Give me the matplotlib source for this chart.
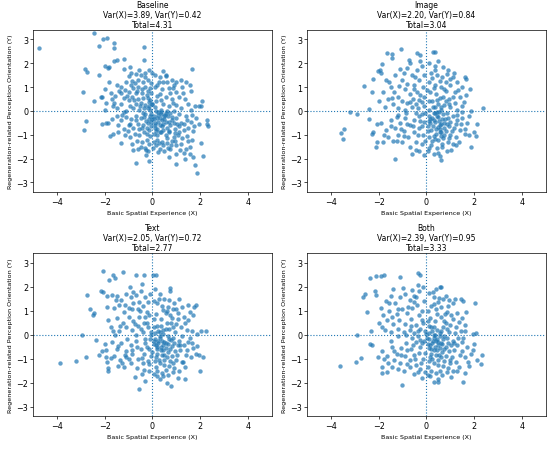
import matplotlib
matplotlib.use("Agg")
import matplotlib.pyplot as plt
import numpy as np

# point estimates, (x, y) pairs per condition
baseline_pts = np.array([
    (-4.74, 2.62), (-2.46, 3.25), (-2.06, 3.0), (-1.89, 3.04), (-2.25, 2.72), (-1.62, 2.85),
    (-1.62, 2.64), (-0.35, 2.68), (-0.34, 2.15), (-1.19, 2.19), (-1.62, 2.08), (-1.47, 2.12),
    (-2.84, 1.74), (-2.73, 1.63), (-2.9, 0.77), (-2.25, 1.5), (-2.0, 1.88), (-1.85, 1.78),
    (-1.82, 1.84), (-2.45, 0.42), (-2.87, -0.8), (-2.8, -0.43), (-2.1, -0.56), (-1.95, -0.52),
    (-1.88, -0.5), (-2.15, 0.57), (-1.97, 0.93), (-1.66, 0.21), (-1.78, -1.05), (-1.64, -0.96),
    (-1.3, -1.33), (-0.69, -2.19), (-0.13, -2.09), (-0.28, -1.84), (-0.29, -1.63), (0.97, -2.22),
    (1.37, -2.02), (1.76, -2.26), (1.86, -2.6), (1.68, -1.95), (2.13, -1.9), (2.03, -1.33),
    (2.28, -0.39), (2.34, -0.64), (2.27, -0.53), (2.07, 0.4), (2.01, 0.21), (1.94, 0.2),
    (1.79, 0.19), (1.64, 1.76), (0.46, 1.69), (0.57, 1.47),
    (-0.95, 1.85), (-0.9, 1.6), (-0.7, 1.55), (-0.5, 1.5), (-0.3, 1.4), (-0.15, 1.7), (0.0, 1.6),
    (-1.2, 1.75), (-1.0, 1.45), (-0.6, 1.3), (-0.4, 1.2), (-0.2, 1.3),
    (-1.8, 1.2), (-1.5, 1.1), (-1.3, 1.0), (-1.1, 1.2), (-0.9, 1.1), (-0.8, 0.95), (-0.6, 1.0),
    (-0.45, 0.9), (-0.3, 1.0), (-0.2, 0.85), (-0.1, 0.95), (-1.4, 0.85), (-1.0, 0.8), (-0.7, 0.75),
    (-2.1, 0.6), (-1.7, 0.5), (-1.6, 0.35), (-1.2, 0.55), (-1.0, 0.45), (-0.85, 0.6), (-0.6, 0.5),
    (-0.4, 0.55), (-0.25, 0.65), (-0.1, 0.45), (-0.7, 0.3), (-0.5, 0.35), (-0.3, 0.25), (-1.3, 0.3),
    (-0.95, 0.2), (-0.15, 0.2), (-2.0, 0.05), (-1.5, 0.1), (-1.1, 0.0), (-0.8, 0.1), (-0.55, 0.05),
    (-0.35, 0.1), (-0.1, 0.05), (-1.2, -0.05),
    (0.1, 1.5), (0.3, 1.4), (0.45, 1.2), (0.55, 1.5), (0.6, 1.2), (0.8, 1.3), (0.9, 1.1), (1.0, 1.2),
    (1.2, 1.3), (1.25, 1.0), (1.4, 1.2), (1.55, 1.1), (1.6, 0.85), (0.2, 1.1), (0.4, 0.9), (0.7, 0.95),
    (1.0, 0.8), (1.1, 0.6), (0.3, 0.7), (0.55, 0.6), (0.8, 0.5), (1.35, 0.5), (1.5, 0.3), (0.15, 0.4),
    (0.45, 0.3), (0.7, 0.2), (1.0, 0.25), (1.2, 0.1), (1.6, 0.05), (0.1, 0.15), (0.35, 0.05), (0.9, 0.0),
    (0.05, -0.2), (0.2, -0.3), (0.35, -0.15), (0.5, -0.35), (0.65, -0.2), (0.8, -0.4), (1.0, -0.3),
    (1.2, -0.5), (1.4, -0.2), (1.6, -0.45), (1.8, -0.3), (0.1, -0.5), (0.3, -0.6), (0.45, -0.55),
    (0.6, -0.7), (0.75, -0.6), (0.95, -0.75), (1.1, -0.65), (1.3, -0.8), (1.5, -0.7), (1.7, -0.85),
    (0.15, -0.85), (0.35, -0.9), (0.55, -1.0), (0.7, -0.9), (0.9, -1.1), (1.05, -1.0), (1.25, -1.15),
    (1.45, -1.05), (1.65, -1.2), (0.2, -1.2), (0.4, -1.3), (0.6, -1.35), (0.8, -1.25), (1.0, -1.45),
    (1.2, -1.4), (1.4, -1.6), (1.55, -1.5), (0.3, -1.6), (0.5, -1.7), (0.75, -1.6), (1.0, -1.8),
    (1.3, -1.75), (1.55, -1.8), (0.7, -1.95), (0.15, -1.45), (0.9, -0.5), (0.25, -0.05), (0.55, -0.1),
    (1.1, -0.15), (0.4, -0.4), (0.7, -0.45),
    (-0.1, -0.2), (-0.3, -0.15), (-0.5, -0.3), (-0.7, -0.2), (-0.9, -0.35), (-1.1, -0.25), (-1.3, -0.4),
    (-1.5, -0.2), (-1.7, -0.35), (-0.2, -0.5), (-0.4, -0.6), (-0.6, -0.55), (-0.8, -0.7), (-1.0, -0.6),
    (-1.2, -0.75), (-1.45, -0.6), (-0.15, -0.8), (-0.35, -0.9), (-0.55, -1.0), (-0.75, -0.95),
    (-0.95, -1.1), (-1.15, -1.0), (-0.25, -1.2), (-0.45, -1.3), (-0.65, -1.25), (-0.85, -1.4),
    (-0.3, -1.55), (-0.6, -1.6), (-0.1, -1.05), (-0.05, -0.65), (-0.2, -1.7),
    (0.0, -0.35), (0.1, -0.7), (-0.05, -0.45), (0.2, -0.75), (0.25, -0.45), (-0.15, -0.35),
    (0.05, -0.95), (0.3, -0.3), (0.45, -0.8), (-0.25, -0.7), (0.15, 0.0), (-0.2, 0.1), (0.0, 0.3),
    (-0.05, 0.75), (0.1, 1.0), (0.05, -1.3), (-0.4, -0.1), (0.6, 0.0),
    (-0.13, 0.37), (0.23, -0.17), (0.41, -0.62), (0.07, -0.33), (-0.27, -0.43), (0.57, -0.48),
    (0.33, -0.87), (0.12, -0.58), (-0.08, -0.12), (0.47, -0.23), (0.68, -0.83), (0.83, -0.27),
    (0.18, -1.03), (-0.37, -0.27), (0.62, -1.13), (1.13, -0.87), (0.93, -1.27), (-0.53, 0.22),
    (-0.77, 0.47), (-0.43, 0.73), (-0.17, 0.53), (-0.63, 0.83), (-0.87, 1.27), (-1.07, 0.63),
    (-0.33, 1.57), (-0.57, 1.73), (0.27, 1.23), (0.73, 0.73), (0.37, 0.47), (0.87, 0.33),
    (1.27, 0.73), (1.43, -0.37), (1.33, -0.57), (0.77, -1.43), (1.17, -1.63), (0.43, -1.43),
    (-0.43, -0.73), (-0.67, -0.37), (-0.93, -0.53), (-1.27, -0.17), (-1.57, 0.63), (-1.33, 0.73),
    (-0.23, -0.97), (0.27, -1.33), (0.53, -0.17), (1.03, -0.57), (1.73, -0.63), (-0.07, 1.17),
    (0.17, 0.63), (-0.47, -1.53), (-1.03, -0.83), (0.03, -1.57), (0.63, -1.57), (0.93, -0.93),
    (-0.73, 1.17), (-1.13, 0.87), (-1.73, 0.73), (-0.03, 0.27), (0.37, -0.03), (0.73, -0.07),
    (-0.57, -0.77), (-0.13, -1.37), (0.23, -1.73), (1.47, -1.27), (1.93, -0.53), (-0.83, -1.63),
    (0.87, 0.97), (-1.43, -0.87), (-1.93, 0.33), (1.67, -0.17),
])

image_pts = np.array([
    (-3.57, -0.93), (-3.5, -1.19), (-3.45, -0.74), (-3.21, -0.04), (-2.9, -0.15), (-2.62, 1.05),
    (-2.41, 0.07), (-2.29, 0.77), (-2.23, 1.35), (-2.39, -0.35), (-2.26, -0.96), (-2.22, -0.9),
    (-2.06, -1.32), (-2.09, -1.53), (-1.83, -1.29), (-1.31, -2.0), (-1.66, 2.44), (-1.43, 2.4),
    (-1.42, 2.2), (-1.07, 2.58), (-0.72, 2.13), (-0.38, 2.44), (-0.28, 2.36), (0.28, 2.48),
    (0.35, 2.45), (-2.01, 1.67), (-1.93, 1.71), (1.85, -1.53), (0.63, -2.05), (2.36, 0.14),
    (1.87, 0.01), (2.09, -1.05), (2.1, -0.56), (1.99, -0.88), (1.81, 0.93), (1.62, 1.42),
    (1.66, 1.33), (1.58, 0.38),
    (-1.9, 1.6), (-1.7, 1.3), (-1.5, 1.0), (-1.8, 0.8), (-1.3, 1.5), (-1.1, 1.75), (-1.0, 1.3),
    (-0.8, 1.8), (-0.6, 1.5), (-0.4, 1.7), (-0.2, 1.9), (-0.5, 1.1), (-0.3, 1.3), (-0.1, 1.5),
    (-1.2, 0.6), (-0.9, 0.9), (-0.7, 0.7), (-0.4, 0.8), (-0.15, 1.0), (-1.6, 0.5), (-1.4, 0.3),
    (-1.0, 0.4), (-0.8, 0.35), (-0.55, 0.5), (-0.3, 0.45), (-0.1, 0.6), (-2.0, 0.4), (-1.2, 0.1),
    (-0.9, 0.05), (-0.6, 0.15), (-0.35, 0.1), (-0.1, 0.2), (-1.85, 1.95), (-0.7, 2.0), (-1.35, 0.8),
    (-0.25, 2.1),
    (0.1, 2.0), (0.35, 1.9), (0.5, 2.1), (0.7, 1.85), (0.9, 1.7), (0.2, 1.6), (0.45, 1.5), (0.65, 1.4),
    (0.85, 1.55), (1.1, 1.4), (1.3, 1.2), (1.5, 1.0), (0.1, 1.2), (0.35, 1.1), (0.6, 1.0), (0.8, 0.85),
    (1.0, 1.1), (1.2, 0.8), (1.4, 0.6), (0.15, 0.8), (0.4, 0.7), (0.7, 0.6), (0.95, 0.5), (1.2, 0.35),
    (1.5, 0.2), (0.25, 0.4), (0.5, 0.3), (0.75, 0.25), (1.0, 0.15), (0.1, 0.05), (0.35, 0.15),
    (0.6, 0.05), (1.3, 0.05), (0.55, 0.55), (0.3, 0.95), (0.8, 1.2), (1.15, 1.6),
    (-1.9, -0.5), (-1.7, -0.8), (-1.5, -0.4), (-1.3, -0.7), (-1.1, -0.5), (-0.9, -0.3), (-0.7, -0.6),
    (-0.5, -0.4), (-0.3, -0.2), (-0.1, -0.45), (-1.6, -1.1), (-1.2, -1.0), (-0.95, -0.85),
    (-0.75, -1.1), (-0.5, -0.9), (-0.3, -0.7), (-0.15, -1.0), (-1.0, -1.3), (-0.7, -1.5),
    (-0.45, -1.3), (-0.2, -1.4), (-0.6, -1.8), (-0.3, -1.7), (-0.1, -1.85), (-1.4, -1.25),
    (-0.85, -0.1), (-0.45, -0.1), (-1.25, -0.25), (-0.2, -0.15),
    (0.1, -0.2), (0.3, -0.1), (0.5, -0.25), (0.7, -0.15), (0.9, -0.3), (1.1, -0.2), (1.3, -0.4),
    (1.5, -0.3), (1.7, -0.5), (0.15, -0.5), (0.35, -0.45), (0.55, -0.6), (0.75, -0.5), (0.95, -0.65),
    (1.15, -0.7), (1.4, -0.8), (1.6, -0.95), (1.8, -1.0), (0.2, -0.8), (0.4, -0.75), (0.6, -0.9),
    (0.8, -0.85), (1.0, -1.0), (1.25, -1.1), (0.1, -1.1), (0.3, -1.05), (0.5, -1.2), (0.7, -1.15),
    (0.9, -1.3), (1.1, -1.4), (1.35, -1.3), (0.2, -1.45), (0.45, -1.55), (0.65, -1.5), (0.85, -1.7),
    (1.05, -1.65), (0.3, -1.8), (0.55, -1.9), (0.05, -1.7), (0.65, -0.35), (0.45, -0.05),
    (0.25, -0.3), (0.85, -0.1), (0.4, -0.95), (0.6, -1.05), (0.75, -1.0), (0.55, -0.75),
    (0.05, -0.65), (1.5, -0.05), (1.0, -0.45),
    (0.33, -0.37), (0.53, -0.43), (0.47, -0.67), (0.63, -0.57), (0.27, -0.63), (0.73, -0.73),
    (0.43, -0.23), (0.17, -0.33), (0.87, -0.53), (0.57, -0.87), (0.37, -1.17), (0.77, -0.33),
    (0.07, -0.83), (-0.17, -0.63), (0.93, -1.13), (1.07, -0.83), (1.23, -0.57), (0.67, -1.37),
    (0.23, -1.27), (-0.07, -1.27), (-0.37, -1.03), (-0.57, -0.63), (-0.83, -0.57), (-1.07, -0.77),
    (-1.47, -0.63), (-1.77, -1.03), (-2.07, -0.57), (-0.43, 0.27), (-0.67, 0.37), (-0.17, 0.37),
    (0.13, 0.43), (0.43, 0.47), (0.83, 0.43), (1.13, 0.57), (1.27, -0.17), (0.27, 0.17),
    (0.63, 0.17), (0.93, 0.27), (-0.27, 0.67), (-0.53, 0.93), (-0.83, 1.13), (-1.13, 1.03),
    (-1.57, 1.23), (-1.73, 0.17), (-1.17, -0.17), (0.23, 1.37), (0.57, 1.27), (0.97, 1.33),
    (1.33, 0.87), (1.67, 0.67), (1.43, -0.57), (1.63, -0.77), (1.23, -1.43), (0.47, -1.77),
    (-0.43, -1.63), (-0.93, -1.07), (-1.23, -1.27), (0.13, -1.57), (0.37, -0.07), (0.53, -0.03),
    (-0.07, -0.07), (-0.27, -0.43), (0.03, 0.87), (0.73, 0.93), (0.37, 1.73), (-0.47, 1.43),
    (-0.93, 1.57), (-1.43, 0.53), (1.77, -0.23), (0.13, -0.43),
])

text_pts = np.array([
    (-3.87, -1.17), (-3.2, -1.11), (-2.95, 0.0), (-2.78, -0.93), (-2.76, 1.66), (-2.6, 1.07),
    (-2.43, 0.89), (-2.47, 0.82), (-2.38, -0.21), (-2.25, -0.83), (-2.06, 2.65), (-2.15, 1.8),
    (-2.05, 1.78), (-1.66, 2.5), (-1.57, 2.37), (-1.24, 2.62), (-1.82, 2.27), (-1.89, 1.59),
    (-1.92, 1.17), (-1.95, -0.66), (-1.93, -0.94), (-1.9, -1.15), (-1.85, -1.5), (-1.88, -1.4),
    (-0.7, 2.48), (-0.35, 2.48), (0.03, 2.48), (0.13, 2.47), (-0.55, -2.25), (0.77, -2.14),
    (0.6, -2.0), (1.34, -1.83), (2.0, -1.5), (1.96, -0.84), (2.11, -0.94), (2.22, 0.14),
    (2.03, 0.17), (1.86, 0.04), (1.75, 1.17), (1.8, 1.22), (1.68, 0.8), (1.48, 1.25),
    (0.75, 1.93), (0.72, 1.8),
    (-1.7, 1.65), (-1.5, 1.6), (-1.3, 1.45), (-1.1, 1.7), (-0.9, 1.55), (-0.7, 1.65), (-0.5, 1.8),
    (-0.3, 1.55), (-0.1, 1.7), (-1.6, 1.1), (-1.4, 1.25), (-1.2, 0.95), (-1.0, 1.1), (-0.8, 1.3),
    (-0.6, 1.05), (-0.4, 1.2), (-0.2, 1.35), (-1.5, 0.7), (-1.25, 0.5), (-1.0, 0.75), (-0.8, 0.55),
    (-0.55, 0.75), (-0.35, 0.5), (-0.15, 0.8), (-1.75, 0.3), (-1.4, 0.15), (-1.1, 0.3), (-0.85, 0.2),
    (-0.6, 0.35), (-0.4, 0.1), (-0.2, 0.3), (-0.05, 0.1), (-0.95, 2.0), (-0.45, 2.1), (-1.85, 0.6),
    (-1.55, 0.0), (-0.7, 0.0), (-0.25, 0.95),
    (0.1, 1.9), (0.3, 1.7), (0.5, 1.5), (0.7, 1.45), (0.9, 1.3), (1.1, 1.5), (0.2, 1.3), (0.4, 1.2),
    (0.6, 1.0), (0.85, 1.05), (1.05, 0.9), (1.3, 0.75), (1.5, 0.6), (0.15, 0.85), (0.35, 0.65),
    (0.6, 0.5), (0.8, 0.7), (1.0, 0.45), (1.2, 0.3), (1.45, 0.2), (0.2, 0.35), (0.45, 0.2),
    (0.7, 0.25), (0.95, 0.1), (1.65, 0.15), (0.1, 0.05), (0.3, 0.1), (1.25, 1.15), (0.55, 0.9),
    (0.05, 1.4),
    (-2.0, -0.4), (-1.7, -0.3), (-1.5, -0.6), (-1.3, -0.35), (-1.1, -0.7), (-0.9, -0.45),
    (-0.7, -0.25), (-0.5, -0.6), (-0.3, -0.35), (-0.1, -0.2), (-1.6, -0.9), (-1.35, -1.05),
    (-1.1, -0.95), (-0.85, -0.8), (-0.6, -1.0), (-0.35, -0.8), (-0.15, -0.6), (-1.2, -1.35),
    (-0.9, -1.2), (-0.65, -1.4), (-0.4, -1.2), (-0.2, -1.1), (-0.75, -1.75), (-0.45, -1.65),
    (-0.15, -1.5), (-0.3, -1.95), (-1.45, -1.3), (-0.05, -0.9),
    (0.1, -0.2), (0.3, -0.15), (0.5, -0.3), (0.7, -0.2), (0.9, -0.35), (1.1, -0.25), (1.3, -0.45),
    (1.5, -0.3), (1.7, -0.55), (0.15, -0.45), (0.35, -0.5), (0.55, -0.55), (0.75, -0.6), (0.95, -0.7),
    (1.15, -0.65), (1.4, -0.85), (1.6, -0.95), (1.8, -0.8), (0.2, -0.8), (0.4, -0.85), (0.6, -0.95),
    (0.8, -0.9), (1.0, -1.05), (1.25, -1.15), (0.1, -1.1), (0.3, -1.2), (0.5, -1.25), (0.7, -1.3),
    (0.9, -1.4), (1.1, -1.5), (1.35, -1.35), (0.2, -1.5), (0.4, -1.6), (0.65, -1.7), (0.85, -1.55),
    (1.05, -1.8), (0.3, -1.85), (0.05, -1.65), (0.25, -0.35), (0.45, -0.65), (0.65, -0.4),
    (0.85, -0.15), (0.2, -0.6), (0.5, -1.05), (0.75, -1.1), (0.4, -0.25), (0.05, -0.4),
    (1.55, -0.15), (1.05, -0.45),
    (0.23, -0.27), (0.43, -0.43), (0.37, -0.63), (0.57, -0.37), (0.17, -0.53), (0.63, -0.73),
    (0.33, -0.07), (0.07, -0.27), (0.83, -0.47), (0.47, -0.87), (0.27, -1.07), (0.77, -0.23),
    (-0.03, -0.73), (-0.23, -0.53), (0.87, -1.17), (1.03, -0.83), (1.17, -0.43), (0.57, -1.47),
    (0.13, -1.33), (-0.13, -1.23), (-0.43, -0.97), (-0.63, -0.53), (-0.87, -0.63), (-1.17, -0.83),
    (-1.43, -0.47), (-1.73, -0.97), (-2.13, -0.67), (-0.47, 0.23), (-0.73, 0.43), (-0.23, 0.47),
    (0.07, 0.33), (0.37, 0.37), (0.77, 0.47), (1.07, 0.63), (1.23, -0.07), (0.23, 0.13),
    (0.57, 0.23), (0.87, 0.33), (-0.33, 0.73), (-0.53, 0.97), (-0.87, 1.07), (-1.13, 1.23),
    (-1.53, 1.43), (-1.67, 0.13), (-1.07, -0.17), (0.27, 1.47), (0.63, 1.17), (0.97, 1.07),
    (1.37, 0.47), (1.57, 0.93), (1.43, -0.63), (1.67, -0.33), (1.27, -1.13), (0.43, -1.73),
    (-0.37, -1.47), (-0.97, -1.03), (-1.27, -1.17), (0.17, -1.73), (0.43, 0.03), (0.63, -0.07),
    (-0.07, -0.03), (-0.33, -0.17), (0.07, 0.63), (0.73, 0.83), (0.43, 1.03), (-0.57, 1.37),
    (-0.83, 1.77), (-1.37, 0.37), (1.87, -0.47), (0.13, -0.93),
])

both_pts = np.array([
    (-3.63, -1.32), (-2.96, -1.13), (-2.92, 0.0), (-2.75, -0.99), (-2.65, 1.58), (-2.55, 1.69),
    (-2.47, 0.93), (-2.3, 0.14), (-2.38, -0.38), (-2.27, -0.45), (-2.37, 2.37), (-2.09, 2.44),
    (-1.88, 2.44), (-1.79, 2.5), (-1.09, 2.4), (-2.13, 1.83), (-2.12, 1.66), (-1.02, -2.11),
    (-1.86, -1.58), (-1.86, -1.37), (-0.35, 2.55), (-0.28, 2.5), (2.02, 1.3), (2.0, -0.38),
    (2.08, 0.05), (1.97, 0.03), (2.33, -0.85), (2.3, -1.22), (2.12, -1.06), (1.53, -1.97),
    (0.3, -1.97), (0.49, -1.97), (0.56, 1.99), (0.63, 1.99), (0.8, 1.6), (0.42, 1.9),
    (-0.35, 2.08), (1.2, 1.5), (1.45, 1.48), (1.52, 1.41), (1.66, 0.95), (1.6, 0.4),
    (-1.9, 1.1), (-1.7, 1.4), (-1.5, 1.6), (-1.3, 1.3), (-1.1, 1.55), (-0.9, 1.7), (-0.7, 1.45),
    (-0.5, 1.6), (-0.3, 1.8), (-0.1, 1.4), (-1.8, 0.8), (-1.55, 1.0), (-1.25, 0.85), (-1.0, 1.05),
    (-0.8, 0.9), (-0.6, 1.1), (-0.4, 1.25), (-0.2, 1.0), (-2.0, 0.5), (-1.65, 0.6), (-1.4, 0.45),
    (-1.15, 0.6), (-0.9, 0.45), (-0.65, 0.65), (-0.45, 0.4), (-0.2, 0.6), (-1.75, 0.2), (-1.5, 0.1),
    (-1.2, 0.25), (-0.95, 0.1), (-0.7, 0.2), (-0.5, 0.05), (-0.25, 0.25), (-0.05, 0.15),
    (-0.6, 1.85), (-1.4, 1.9), (-0.15, 2.0), (-0.85, 0.0),
    (0.1, 1.75), (0.3, 1.55), (0.5, 1.35), (0.7, 1.5), (0.9, 1.2), (1.1, 1.3), (0.2, 1.2), (0.4, 1.05),
    (0.6, 1.15), (0.85, 0.95), (1.05, 0.8), (1.3, 0.9), (1.5, 0.7), (0.15, 0.7), (0.35, 0.55),
    (0.6, 0.75), (0.8, 0.5), (1.0, 0.4), (1.25, 0.3), (1.45, 0.15), (0.2, 0.3), (0.45, 0.2),
    (0.7, 0.3), (0.95, 0.1), (1.2, 0.05), (0.1, 0.05), (0.3, 0.0), (0.55, 0.05), (0.05, 1.0),
    (0.45, 0.85),
    (-1.85, -0.7), (-1.65, -0.9), (-1.45, -0.5), (-1.25, -0.8), (-1.05, -0.55), (-0.85, -0.35),
    (-0.65, -0.6), (-0.45, -0.3), (-0.25, -0.5), (-0.1, -0.25), (-1.6, -1.2), (-1.35, -1.05),
    (-1.1, -1.2), (-0.9, -0.9), (-0.7, -1.05), (-0.5, -0.85), (-0.3, -0.75), (-0.15, -1.0),
    (-1.2, -1.45), (-0.95, -1.5), (-0.7, -1.35), (-0.45, -1.25), (-0.25, -1.45), (-0.5, -1.65),
    (-0.2, -1.8), (-0.05, -1.55), (-1.65, -1.55), (-0.6, -0.15), (-1.5, -0.25), (-0.35, -0.05),
    (0.1, -0.2), (0.3, -0.15), (0.5, -0.3), (0.7, -0.2), (0.9, -0.35), (1.1, -0.25), (1.3, -0.45),
    (1.5, -0.3), (1.7, -0.5), (0.15, -0.45), (0.35, -0.5), (0.55, -0.55), (0.75, -0.6), (0.95, -0.7),
    (1.15, -0.65), (1.4, -0.85), (1.6, -0.95), (1.85, -0.8), (0.2, -0.8), (0.4, -0.85), (0.6, -0.95),
    (0.8, -0.9), (1.0, -1.05), (1.25, -1.15), (0.1, -1.1), (0.3, -1.2), (0.5, -1.25), (0.7, -1.3),
    (0.9, -1.4), (1.1, -1.5), (1.35, -1.35), (0.2, -1.5), (0.4, -1.6), (0.65, -1.7), (0.85, -1.55),
    (1.05, -1.75), (1.6, -1.6), (0.05, -1.7), (0.25, -0.35), (0.45, -0.65), (0.65, -0.4),
    (0.85, -0.15), (0.2, -0.6), (0.5, -1.05), (0.75, -1.1), (0.4, -0.25), (0.05, -0.4),
    (1.55, -0.15), (1.05, -0.45), (1.8, -1.3),
    (0.27, -0.27), (0.47, -0.43), (0.33, -0.63), (0.63, -0.37), (0.13, -0.57), (0.67, -0.73),
    (0.37, -0.03), (0.03, -0.13), (0.83, -0.53), (0.53, -0.83), (0.23, -1.03), (0.73, -0.07),
    (-0.07, -0.77), (-0.17, -0.33), (0.97, -1.17), (1.07, -0.93), (1.17, -0.37), (0.57, -1.53),
    (0.07, -1.33), (-0.23, -1.17), (-0.47, -1.03), (-0.57, -0.43), (-0.83, -0.63), (-1.07, -0.87),
    (-1.37, -0.67), (-1.77, -1.03), (-2.03, -0.93), (-0.37, 0.17), (-0.63, 0.37), (-0.13, 0.47),
    (0.13, 0.37), (0.33, 0.33), (0.73, 0.57), (1.13, 0.63), (1.33, -0.13), (0.23, 0.13),
    (0.63, 0.13), (0.87, 0.23), (-0.33, 0.83), (-0.53, 1.37), (-0.77, 1.17), (-1.17, 1.07),
    (-1.57, 1.33), (-1.87, 0.33), (-1.17, -0.07), (0.27, 1.77), (0.53, 1.53), (0.93, 1.43),
    (1.37, 0.53), (1.63, 0.17), (1.47, -0.67), (1.73, -1.13), (1.27, -1.53), (0.47, -1.83),
    (-0.37, -1.57), (-0.83, -1.23), (-1.43, -1.33), (0.17, -1.73), (0.43, -0.17), (0.57, -0.07),
    (-0.03, 0.03), (-0.27, -0.23), (0.07, 0.57), (0.77, 0.87), (0.33, 1.27), (-0.43, 1.57),
    (-0.97, 1.93), (-1.43, 0.73), (1.93, -0.63), (0.17, -0.93),
])

titles = ["Baseline", "Image", "Text", "Both"]
var_x = [3.89, 2.20, 2.05, 2.39]
var_y = [0.42, 0.84, 0.72, 0.95]
totals = [4.31, 3.04, 2.77, 3.33]
point_sets = [baseline_pts, image_pts, text_pts, both_pts]

blue = "#1f77b4"
fig = plt.figure(figsize=(5.5, 4.52), dpi=100)
positions = [
    [0.060, 0.573, 0.4345, 0.359],
    [0.558, 0.573, 0.4345, 0.359],
    [0.060, 0.077, 0.4345, 0.361],
    [0.558, 0.077, 0.4345, 0.361],
]

for i in range(4):
    ax = fig.add_axes(positions[i])
    pts = point_sets[i]
    ax.scatter(pts[:, 0], pts[:, 1], s=10, color=blue, alpha=0.7, linewidths=0)
    ax.axhline(0, color=blue, linestyle=":", linewidth=0.8)
    ax.axvline(0, color=blue, linestyle=":", linewidth=0.8)
    ax.set_xlim(-5, 5)
    ax.set_ylim(-3.4, 3.4)
    ax.set_xticks([-4, -2, 0, 2, 4])
    ax.set_yticks([-3, -2, -1, 0, 1, 2, 3])
    ax.tick_params(labelsize=5.8, length=2, width=0.5, pad=1.5)
    for sp in ax.spines.values():
        sp.set_linewidth(0.5)
    ax.set_title("%s\nVar(X)=%.2f, Var(Y)=%.2f\nTotal=%.2f" % (titles[i], var_x[i], var_y[i], totals[i]),
                 fontsize=5.5, pad=2, linespacing=1.15)
    ax.set_xlabel("Basic Spatial Experience (X)", fontsize=4.6, labelpad=3)
    ax.set_ylabel("Regeneration-related Perception Orientation (Y)", fontsize=4.6, labelpad=2)

fig.savefig("out.png", dpi=100)
